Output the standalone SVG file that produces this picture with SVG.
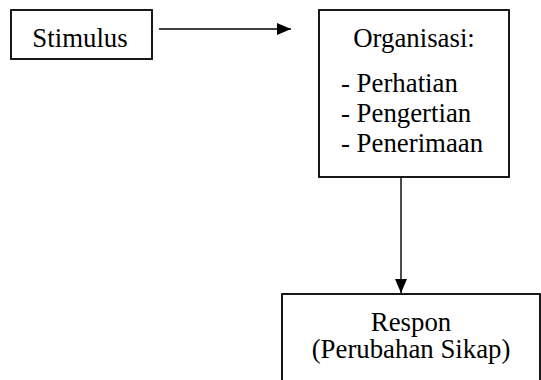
<svg xmlns="http://www.w3.org/2000/svg" width="541" height="380" viewBox="0 0 541 380">
<style>
.box{fill:#fff;stroke:#000;stroke-width:1.8}
.t{font-family:"Liberation Serif","Times New Roman",serif;font-size:26.8px;fill:#000}
.c{stroke:#000;stroke-width:1.4;fill:none}
</style>
<defs>
<marker id="ah" viewBox="0 0 14 12" refX="14" refY="6" markerWidth="14" markerHeight="12" markerUnits="userSpaceOnUse" orient="auto">
<path d="M0,0 L14,6 L0,12 Z" fill="#000"/>
</marker>
</defs>
<g id="connectors">
<line class="c" x1="159" y1="29" x2="291" y2="29" marker-end="url(#ah)"/>
<line class="c" x1="401" y1="177" x2="401" y2="293" marker-end="url(#ah)"/>
</g>
<g id="stimulus">
<rect class="box" x="11" y="10" width="141" height="49"/>
<text class="t" x="80" y="47" text-anchor="middle">Stimulus</text>
</g>
<g id="organisasi">
<rect class="box" x="319" y="10" width="190" height="167"/>
<text class="t" x="414" y="47" text-anchor="middle">Organisasi:</text>
<text class="t" x="341" y="92">- Perhatian</text>
<text class="t" x="341" y="122">- Pengertian</text>
<text class="t" x="341" y="152">- Penerimaan</text>
</g>
<g id="respon">
<rect class="box" x="282" y="294" width="258" height="100"/>
<text class="t" x="411" y="331" text-anchor="middle">Respon</text>
<text class="t" x="411" y="358" text-anchor="middle">(Perubahan Sikap)</text>
</g>
</svg>
